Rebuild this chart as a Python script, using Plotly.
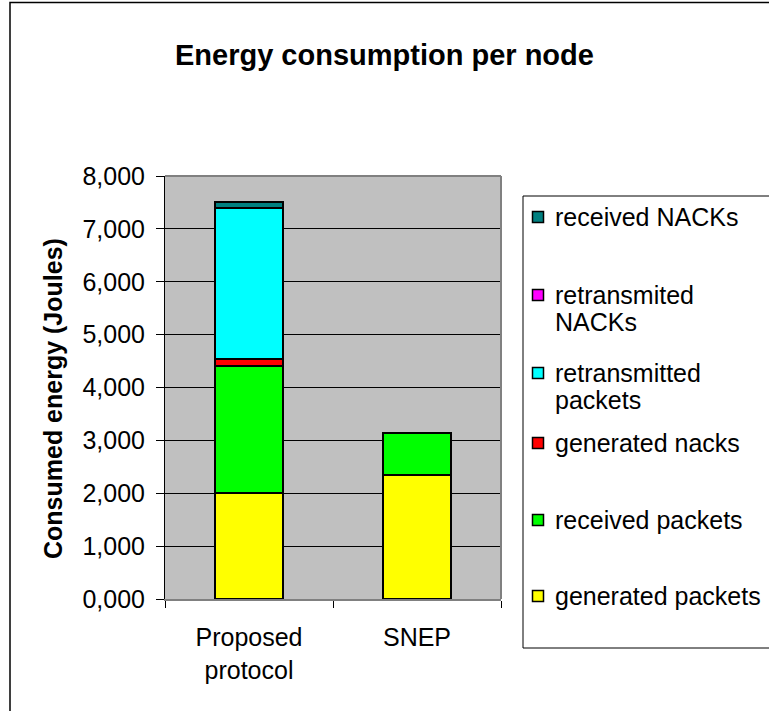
import plotly.graph_objects as go

# Energy per node (Joules), stacked from bottom to top
categories = ["Proposed<br>protocol", "SNEP"]
series_names = [
    "generated packets",
    "received packets",
    "generated nacks",
    "retransmitted packets",
    "retransmited NACKs",
    "received NACKs",
]
generated_packets = [2.000, 2.341]
received_packets = [2.410, 0.800]
generated_nacks = [0.120, None]
retransmitted_packets = [2.857, None]
retransmited_nacks = [0.010, None]
received_nacks = [0.106, None]
series_values = [
    generated_packets,
    received_packets,
    generated_nacks,
    retransmitted_packets,
    retransmited_nacks,
    received_nacks,
]
series_colors = ["#FFFF00", "#00FF00", "#FF0000", "#00FFFF", "#FF00FF", "#008080"]

# Legend text, top to bottom, with the same line breaks as the box
legend_order = [5, 4, 3, 2, 1, 0]
legend_text = {
    "received NACKs": ["received NACKs"],
    "retransmited NACKs": ["retransmited", "NACKs"],
    "retransmitted packets": ["retransmitted", "packets"],
    "generated nacks": ["generated nacks"],
    "received packets": ["received packets"],
    "generated packets": ["generated packets"],
}
legend_rows_y = [217, 295, 373, 443, 520, 596]   # first-line centre of each entry (px)
legend_line_step = 27

y_ticks = [0, 1, 2, 3, 4, 5, 6, 7, 8]

W, H = 769, 711
L, R, T, B = 165, 268, 176, 112
PW, PH = W - L - R, H - T - B
FONT = "Liberation Sans, Arial, sans-serif"


def px_x(px):
    return (px - L) / PW


def px_y(py):
    return (H - B - py) / PH


fig = go.Figure()
for name, vals, col in zip(series_names, series_values, series_colors):
    fig.add_trace(go.Bar(
        name=name, x=categories, y=vals,
        marker=dict(color=col, line=dict(color="#000000", width=2)),
        showlegend=False,
    ))

shapes = []
annotations = []

# outer chart frame
shapes.append(dict(type="rect", xref="paper", yref="paper",
                   x0=px_x(10), x1=px_x(820), y0=px_y(760), y1=px_y(2.5),
                   line=dict(color="#000000", width=1.5), layer="below"))
# plot area border (top, right)
shapes.append(dict(type="line", xref="paper", yref="paper", x0=0, x1=1, y0=1, y1=1,
                   line=dict(color="#808080", width=2)))
shapes.append(dict(type="line", xref="paper", yref="paper", x0=1, x1=1, y0=0, y1=1,
                   line=dict(color="#808080", width=2)))

# legend box
shapes.append(dict(type="rect", xref="paper", yref="paper",
                   x0=px_x(523), x1=px_x(830), y0=px_y(648), y1=px_y(196),
                   line=dict(color="#000000", width=1), fillcolor="white", layer="below"))
for row, idx in enumerate(legend_order):
    name = series_names[idx]
    yc = legend_rows_y[row]
    shapes.append(dict(type="rect", xref="paper", yref="paper",
                       x0=px_x(532.5), x1=px_x(543.5), y0=px_y(yc + 5.5), y1=px_y(yc - 5.5),
                       fillcolor=series_colors[idx], line=dict(color="#000000", width=1.5)))
    for k, line in enumerate(legend_text[name]):
        annotations.append(dict(text=line, xref="paper", yref="paper",
                                x=px_x(553), y=px_y(yc + k * legend_line_step),
                                xanchor="left", yanchor="middle", showarrow=False,
                                font=dict(family=FONT, size=25, color="#000000")))

# title
annotations.append(dict(text="<b>Energy consumption per node</b>", xref="paper", yref="paper",
                        x=px_x(384.5), y=px_y(55), xanchor="center", yanchor="middle",
                        showarrow=False, font=dict(family=FONT, size=29, color="#000000")))
# y axis title
annotations.append(dict(text="<b>Consumed energy (Joules)</b>", xref="paper", yref="paper",
                        x=px_x(53), y=px_y(399), xanchor="center", yanchor="middle",
                        textangle=-90, showarrow=False,
                        font=dict(family=FONT, size=25, color="#000000")))

fig.update_layout(
    width=W, height=H,
    margin=dict(l=L, r=R, t=T, b=B, pad=0),
    paper_bgcolor="white",
    plot_bgcolor="#C0C0C0",
    barmode="stack",
    bargap=0.595,
    separators=",.",
    font=dict(family=FONT, size=25, color="#000000"),
    shapes=shapes,
    annotations=annotations,
    showlegend=False,
)
fig.update_xaxes(
    type="category",
    showline=True, linecolor="#808080", linewidth=2,
    ticks="outside", tickson="boundaries", ticklen=7, tickcolor="#000000", tickwidth=1,
    ticklabelstandoff=15,
    tickfont=dict(family=FONT, size=25, color="#000000"),
    showgrid=False,
)
fig.update_yaxes(
    range=[0, 8], tickvals=y_ticks, tickformat=".3f",
    showline=True, linecolor="#000000", linewidth=1,
    ticks="outside", ticklen=8, tickcolor="#000000", tickwidth=1,
    ticklabelstandoff=6,
    tickfont=dict(family=FONT, size=25, color="#000000"),
    showgrid=True, gridcolor="#000000", gridwidth=1,
    zeroline=False,
)

fig.write_html("out.html")
